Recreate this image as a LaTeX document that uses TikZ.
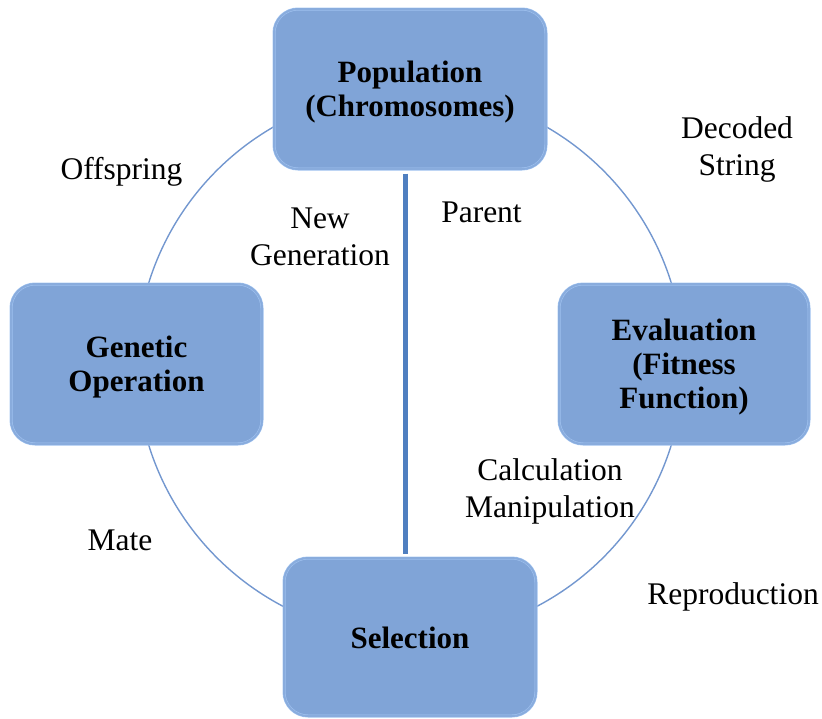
\documentclass[tikz,border=0pt]{standalone}
\usepackage{fontspec}
\setmainfont{Liberation Serif}
\begin{document}
\begin{tikzpicture}[x=1pt,y=-1pt,
  stagebox/.style={rounded corners=24pt, fill=boxfill, draw=boxedge, line width=3pt,
    inner sep=0pt,
    postaction={draw=boxshade, line width=2pt, draw opacity=0.45,
      rounded corners=20pt}},
  stagetext/.style={align=center, inner sep=0pt,
    font=\fontsize{31}{34}\selectfont\bfseries},
  flowlabel/.style={align=center, inner sep=0pt, anchor=base,
    font=\fontsize{31.5}{37}\selectfont},
  ring/.style={draw=ringblue, line width=1.4pt},
  spine/.style={draw=spineblue, line width=5pt}]
\definecolor{boxfill}{HTML}{80A4D7}
\definecolor{boxedge}{HTML}{A3C5F2}
\definecolor{boxshade}{HTML}{6A8FC4}
\definecolor{ringblue}{HTML}{7397CF}
\definecolor{spineblue}{HTML}{4F7FC0}

\useasboundingbox (0,0) rectangle (822,718);

% the cycle ring behind the four stages
\coordinate (hub) at (410,364);
\draw[ring] (hub) circle (273.5);

% stages of the cycle
\node[stagebox, minimum width=272pt, minimum height=160pt] (pop) at (410,89) {};
\node[stagebox, minimum width=251pt, minimum height=160pt] (gen) at (136.5,364) {};
\node[stagebox, minimum width=252pt, minimum height=158pt] (sel) at (410,637) {};
\node[stagebox, minimum width=250pt, minimum height=160pt] (eva) at (684,364) {};

\node[stagetext] (poptext) at ([yshift=-3.5pt]pop.center) {Population\\(Chromosomes)};
\node[stagetext] (gentext) at ([yshift=-3.5pt]gen.center) {Genetic\\Operation};
\node[stagetext] (seltext) at ([yshift=-1pt]sel.center) {Selection};
\node[stagetext] (evatext) at ([yshift=-3pt]eva.center) {Evaluation\\(Fitness\\Function)};

% direct path from population to selection
\draw[spine] ([xshift=-5pt,yshift=-3pt]pop.south) -- ([xshift=-5pt,yshift=3pt]sel.north);

% labels along the cycle (base = baseline of the last line)
\node[flowlabel] (offspring) at (121.5,179) {Offspring};
\node[flowlabel] (newgen) at (320,265) {New\\Generation};
\node[flowlabel] (parent) at (481.5,222) {Parent};
\node[flowlabel] (decoded) at (737,175) {Decoded\\String};
\node[flowlabel] (calc) at (550,517) {Calculation\\Manipulation};
\node[flowlabel] (mate) at (120,550) {Mate};
\node[flowlabel] (repro) at (733,604) {Reproduction};
\end{tikzpicture}
\end{document}
